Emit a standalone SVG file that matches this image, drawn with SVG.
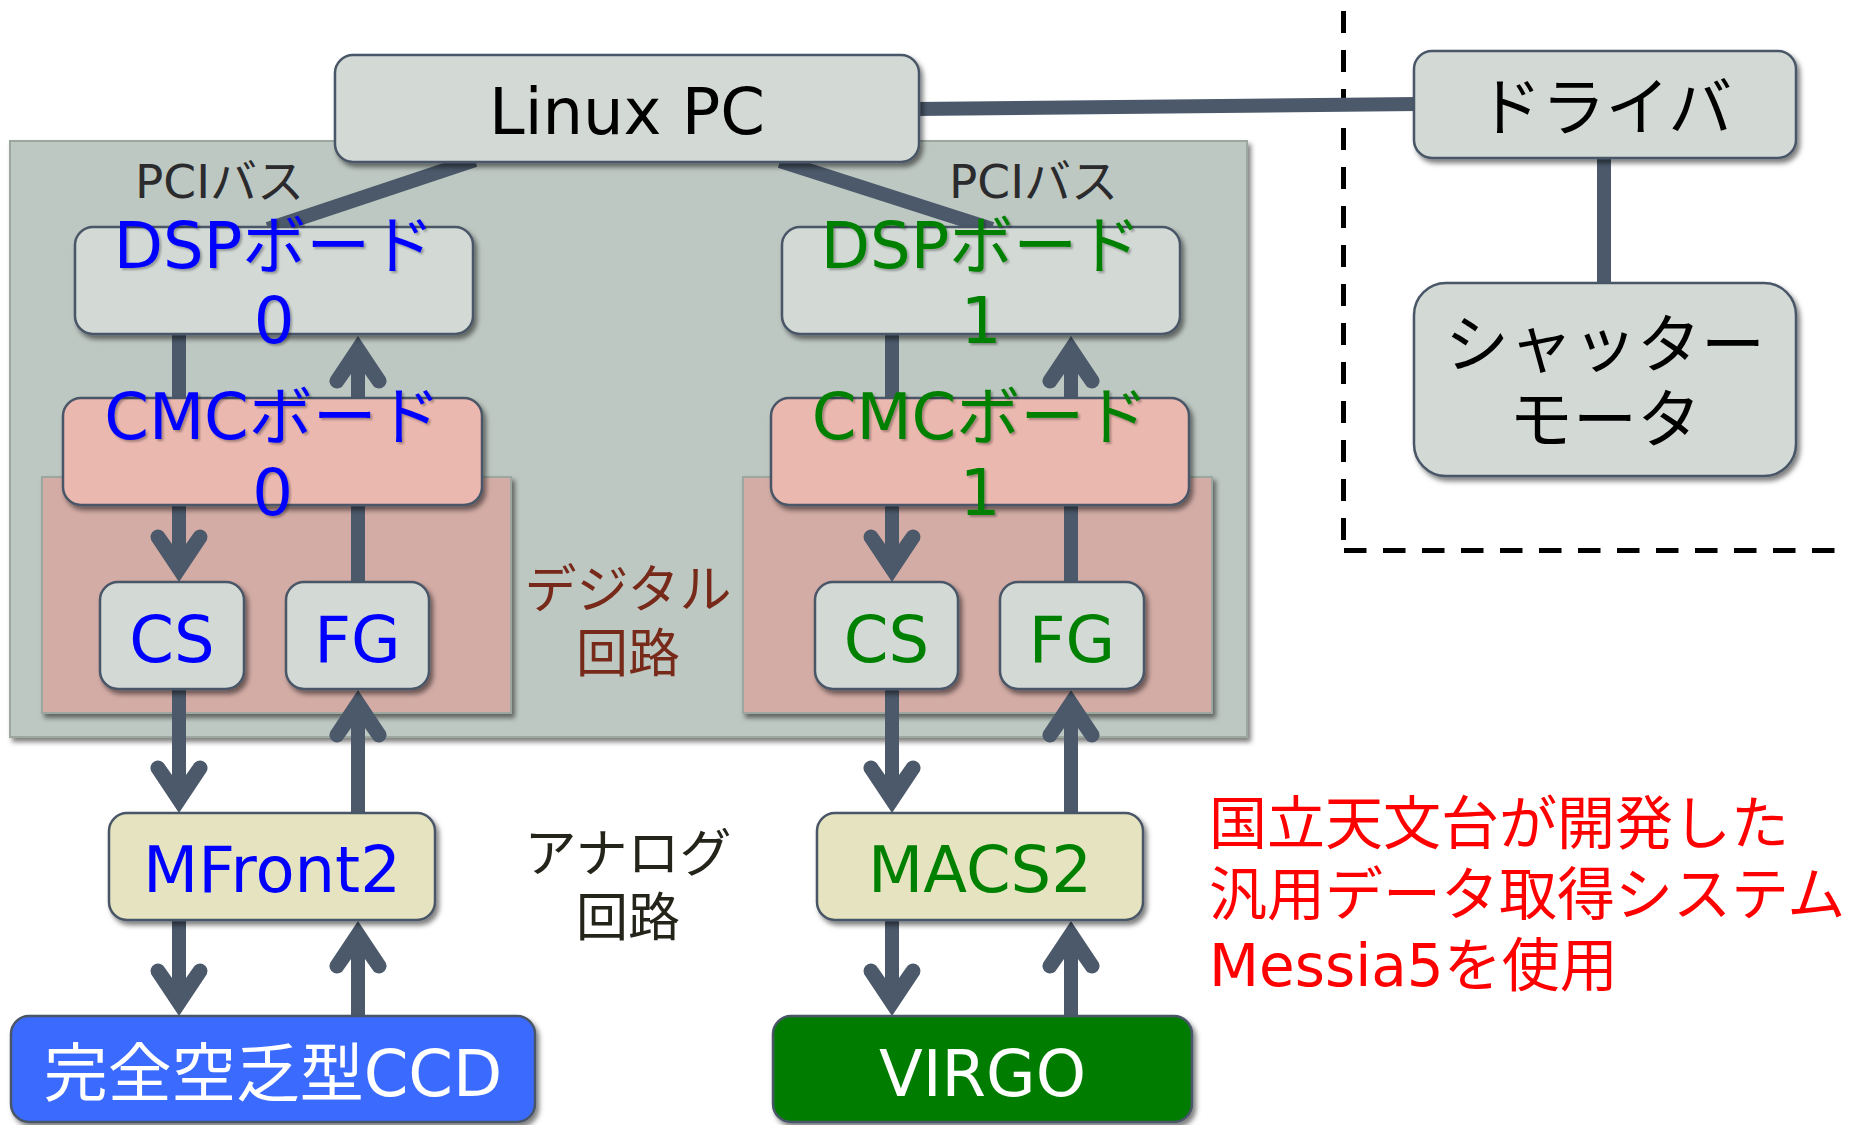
<svg xmlns="http://www.w3.org/2000/svg" width="1856" height="1125" viewBox="0 0 1856 1125">
  <defs>
    <style>
      .panel { fill: #bec8c2; stroke: #9ba79f; stroke-width: 2; }
      .area { fill: #d4aca6; stroke: #9ba79f; stroke-width: 2; }
      .box { fill: #d3dad6; stroke: #4a5667; stroke-width: 2.5; }
      .cmc { fill: #ebb8af; }
      .afe { fill: #e6e4c0; }
      .ccd { fill: #3b6bff; }
      .virgo { fill: #007b00; }
      .lbl { font-family: "DejaVu Sans", "Noto Sans CJK JP", sans-serif; font-size: 64px; text-anchor: middle; }
      .note { font-family: "DejaVu Sans", "Noto Sans CJK JP", sans-serif; }
      .blue { fill: #0000ff; }
      .green { fill: #008000; }
      .black { fill: #000000; }
      .white { fill: #ffffff; }
      .wire { stroke: #4b596a; stroke-width: 14; fill: none; }
      .arrow { marker-end: url(#head); }
      .dash { stroke: #000000; stroke-width: 5; fill: none; }
    </style>
    <filter id="shadow" x="-10%" y="-10%" width="125%" height="135%">
      <feDropShadow dx="3" dy="4" stdDeviation="2.5" flood-color="#000" flood-opacity="0.5"/>
    </filter>
    <filter id="tshadow" x="-10%" y="-10%" width="125%" height="135%">
      <feDropShadow dx="2" dy="2" stdDeviation="1" flood-color="#000" flood-opacity="0.3"/>
    </filter>
    <marker id="head" markerUnits="userSpaceOnUse" orient="auto" refX="-12" refY="0" markerWidth="60" markerHeight="60" overflow="visible">
      <path d="M0,0 L-41.8,-27.8 A7.5,7.5 0 0 0 -48.2,-14.2 L-38,-7 L-38,7 L-48.2,14.2 A7.5,7.5 0 0 0 -41.8,27.8 Z" fill="#4b596a"/>
    </marker>
  </defs>

  <!-- backdrop: board enclosure and the two digital-circuit areas -->
  <g id="backdrop">
    <rect class="panel" x="10" y="141" width="1237" height="596" filter="url(#shadow)"/>
    <rect class="area" x="42" y="477" width="469" height="236" filter="url(#shadow)"/>
    <rect class="area" x="743" y="477" width="469" height="236" filter="url(#shadow)"/>
  </g>

  <!-- dashed boundary around the shutter section -->
  <g id="boundary">
    <path class="dash" d="M1343.5,11 V540" stroke-dasharray="22 17"/>
    <path class="dash" d="M1344,550.5 H1836" stroke-dasharray="22.5 16.5"/>
  </g>

  <!-- connectors -->
  <g id="connectors">
    <line class="wire" x1="915" y1="109" x2="1418" y2="104"/>
    <line class="wire" x1="475" y1="160" x2="268" y2="229"/>
    <line class="wire" x1="780" y1="161" x2="992" y2="229"/>
    <line class="wire" x1="1604" y1="155" x2="1604" y2="286"/>

    <path class="wire arrow" d="M179,335 V570"/>
    <path class="wire arrow" d="M179,689 V801"/>
    <path class="wire arrow" d="M179,920 V1004"/>
    <path class="wire arrow" d="M358,582 V348"/>
    <path class="wire arrow" d="M358,813 V702"/>
    <path class="wire arrow" d="M358,1016 V933"/>

    <path class="wire arrow" d="M892,335 V570"/>
    <path class="wire arrow" d="M892,689 V801"/>
    <path class="wire arrow" d="M892,920 V1004"/>
    <path class="wire arrow" d="M1071,582 V348"/>
    <path class="wire arrow" d="M1071,813 V702"/>
    <path class="wire arrow" d="M1071,1016 V933"/>
  </g>

  <!-- nodes -->
  <g id="linux-pc">
    <rect class="box" x="335" y="55" width="584" height="107" rx="18" filter="url(#shadow)"/>
    <text class="lbl black" x="627" y="134">Linux PC</text>
  </g>

  <g id="dsp0">
    <rect class="box" x="75" y="227" width="398" height="107" rx="18" filter="url(#shadow)"/>
    <text class="lbl blue" filter="url(#tshadow)"><tspan x="274" y="268">DSPボード</tspan><tspan x="274" y="343">0</tspan></text>
  </g>

  <g id="dsp1">
    <rect class="box" x="782" y="227" width="398" height="107" rx="18" filter="url(#shadow)"/>
    <text class="lbl green" filter="url(#tshadow)"><tspan x="981" y="268">DSPボード</tspan><tspan x="981" y="343">1</tspan></text>
  </g>

  <g id="cmc0">
    <rect class="box cmc" x="63" y="398" width="419" height="107" rx="18" filter="url(#shadow)"/>
    <text class="lbl blue" filter="url(#tshadow)"><tspan x="272.5" y="439">CMCボード</tspan><tspan x="272.5" y="515">0</tspan></text>
  </g>

  <g id="cmc1">
    <rect class="box cmc" x="771" y="398" width="418" height="107" rx="18" filter="url(#shadow)"/>
    <text class="lbl green" filter="url(#tshadow)"><tspan x="980" y="439">CMCボード</tspan><tspan x="980" y="515">1</tspan></text>
  </g>

  <g id="cs0">
    <rect class="box" x="100" y="582" width="144" height="107" rx="18" filter="url(#shadow)"/>
    <text class="lbl blue" x="172" y="662">CS</text>
  </g>

  <g id="fg0">
    <rect class="box" x="286" y="582" width="143" height="107" rx="18" filter="url(#shadow)"/>
    <text class="lbl blue" x="357.5" y="662">FG</text>
  </g>

  <g id="cs1">
    <rect class="box" x="815" y="582" width="143" height="107" rx="18" filter="url(#shadow)"/>
    <text class="lbl green" x="886.5" y="662">CS</text>
  </g>

  <g id="fg1">
    <rect class="box" x="1000" y="582" width="144" height="107" rx="18" filter="url(#shadow)"/>
    <text class="lbl green" x="1072" y="662">FG</text>
  </g>

  <g id="mfront2">
    <rect class="box afe" x="109" y="813" width="326" height="107" rx="18" filter="url(#shadow)"/>
    <text class="lbl blue" x="272" y="892">MFront2</text>
  </g>

  <g id="macs2">
    <rect class="box afe" x="817" y="813" width="326" height="107" rx="18" filter="url(#shadow)"/>
    <text class="lbl green" x="980" y="892">MACS2</text>
  </g>

  <g id="ccd">
    <rect class="box ccd" x="11" y="1016" width="524" height="106" rx="18" filter="url(#shadow)"/>
    <text class="lbl white" x="273" y="1096">完全空乏型CCD</text>
  </g>

  <g id="virgo">
    <rect class="box virgo" x="773" y="1016" width="419" height="106" rx="18" filter="url(#shadow)"/>
    <text class="lbl white" x="982.5" y="1096">VIRGO</text>
  </g>

  <g id="driver">
    <rect class="box" x="1414" y="51" width="382" height="107" rx="18" filter="url(#shadow)"/>
    <text class="lbl black" x="1605" y="130">ドライバ</text>
  </g>

  <g id="shutter-motor">
    <rect class="box" x="1414" y="283" width="382" height="193" rx="32" filter="url(#shadow)"/>
    <text class="lbl black"><tspan x="1605" y="367">シャッター</tspan><tspan x="1605" y="442">モータ</tspan></text>
  </g>

  <!-- annotations -->
  <g id="annotations">
    <text class="note" x="135" y="198" font-size="47" fill="#2b2b2e">PCIバス</text>
    <text class="note" x="949" y="198" font-size="47" fill="#2b2b2e">PCIバス</text>
    <text class="note" font-size="52" fill="#772a1a" text-anchor="middle"><tspan x="628" y="608">デジタル</tspan><tspan x="628" y="672">回路</tspan></text>
    <text class="note" font-size="52" fill="#24241a" text-anchor="middle"><tspan x="628" y="872">アナログ</tspan><tspan x="628" y="936">回路</tspan></text>
    <text class="note" font-size="58" fill="#ff0000"><tspan x="1209" y="844">国立天文台が開発した</tspan><tspan x="1209" y="915">汎用データ取得システム</tspan><tspan x="1209" y="986">Messia5を使用</tspan></text>
  </g>
</svg>
